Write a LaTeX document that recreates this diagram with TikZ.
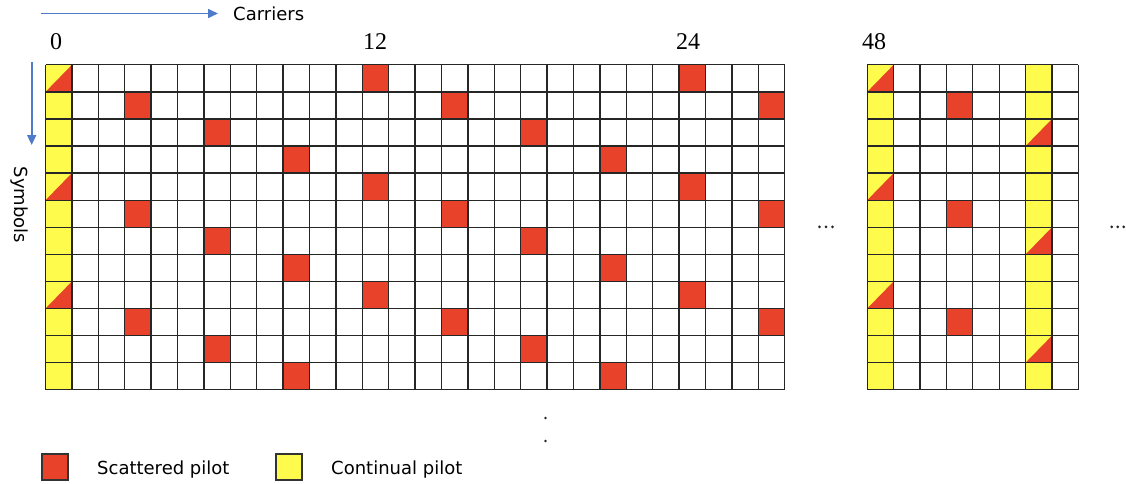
\documentclass[tikz,border=0pt]{standalone}
\usepackage{fontspec}
\setmainfont{DejaVu Sans}
\newfontfamily\numfont{Liberation Serif}
\usetikzlibrary{arrows.meta}
\definecolor{spred}{HTML}{E8432A}
\definecolor{cpyel}{HTML}{FFFB4C}
\definecolor{axblue}{HTML}{4F7BCB}
\tikzset{
  gl/.style={draw=black!85, line width=1.3pt},
  spcell/.style={fill=spred},
  cpcell/.style={fill=cpyel},
  axarrow/.style={draw=axblue, line width=1.6pt, -{Triangle[length=10pt,width=9pt]}},
  numlabel/.style={font=\numfont\fontsize{24}{26}\selectfont, inner sep=0pt, anchor=base},
  txtlabel/.style={font=\fontsize{18}{20}\selectfont, inner sep=0pt},
  legbox/.style={draw=black!80, line width=1.2pt, minimum width=26pt, minimum height=26pt, inner sep=0pt},
  dotmark/.style={fill=black!85}
}
\def\cw{26.4}
\def\rh{27.08}
\def\Lx{45.5}
\def\Rx{867.2}
\def\Ty{64.8}
\begin{document}
\begin{tikzpicture}[x=1pt, y=-1pt]
\useasboundingbox (0,0) rectangle (1126,484);
% ---------- left grid fills
\fill[cpcell] (\Lx,\Ty) rectangle ++(\cw,{12*\rh});
\foreach \base in {0,4,8} {
  \foreach \c/\dr in {12/0,24/0,3/1,15/1,27/1,6/2,18/2,9/3,21/3} {
    \fill[spcell] ({\Lx+\c*\cw},{\Ty+(\base+\dr)*\rh}) rectangle ++(\cw,\rh);
  }
  \fill[spcell] (\Lx,{\Ty+(\base+1)*\rh}) -- ++(\cw,0) -- ++(0,-\rh) -- cycle;
}
% ---------- right grid fills
\fill[cpcell] (\Rx,\Ty) rectangle ++(\cw,{12*\rh});
\fill[cpcell] ({\Rx+6*\cw},\Ty) rectangle ++(\cw,{12*\rh});
\foreach \base in {0,4,8} {
  \fill[spcell] ({\Rx+3*\cw},{\Ty+(\base+1)*\rh}) rectangle ++(\cw,\rh);
  \fill[spcell] (\Rx,{\Ty+(\base+1)*\rh}) -- ++(\cw,0) -- ++(0,-\rh) -- cycle;
  \fill[spcell] ({\Rx+6*\cw},{\Ty+(\base+3)*\rh}) -- ++(\cw,0) -- ++(0,-\rh) -- cycle;
}
% ---------- grid lines
\foreach \c in {0,...,28} \draw[gl] ({\Lx+\c*\cw},\Ty) -- ++(0,{12*\rh});
\foreach \r in {0,...,12} \draw[gl] (\Lx,{\Ty+\r*\rh}) -- ++({28*\cw},0);
\foreach \c in {0,...,8} \draw[gl] ({\Rx+\c*\cw},\Ty) -- ++(0,{12*\rh});
\foreach \r in {0,...,12} \draw[gl] (\Rx,{\Ty+\r*\rh}) -- ++({8*\cw},0);
% ---------- carrier numbers
\node[numlabel] (n0) at (56,50) {0};
\node[numlabel] (n12) at (375,50) {12};
\node[numlabel] (n24) at (688,50) {24};
\node[numlabel] (n48) at (874,50) {48};
% ---------- axes
\coordinate (hA) at (40.7,13.5);
\coordinate (hB) at (218,13.5);
\draw[axarrow] (hA) -- (hB);
\node[txtlabel, anchor=base west] (carr) at (233,21) {Carriers};
\coordinate (vA) at (31.7,62);
\coordinate (vB) at (31.7,145);
\draw[axarrow] (vA) -- (vB);
\node[txtlabel, rotate=-90] (symb) at (19,205) {Symbols};
% ---------- ellipsis dots
\foreach \x in {819.5,826,832.5} \fill[dotmark] (\x,226.8) circle (1.5pt);
\foreach \x in {1111.7,1117.7,1123.7} \fill[dotmark] (\x,226.8) circle (1.5pt);
\fill[dotmark] (545.5,418) circle (1.3pt);
\fill[dotmark] (545.5,441) circle (1.3pt);
% ---------- legend
\node[legbox, fill=spred] (lsp) at (55,467) {};
\node[txtlabel, anchor=base west] (lsptxt) at (97,474) {Scattered pilot};
\node[legbox, fill=cpyel] (lcp) at (289,467) {};
\node[txtlabel, anchor=base west] (lcptxt) at (331,474) {Continual pilot};
\end{tikzpicture}
\end{document}
